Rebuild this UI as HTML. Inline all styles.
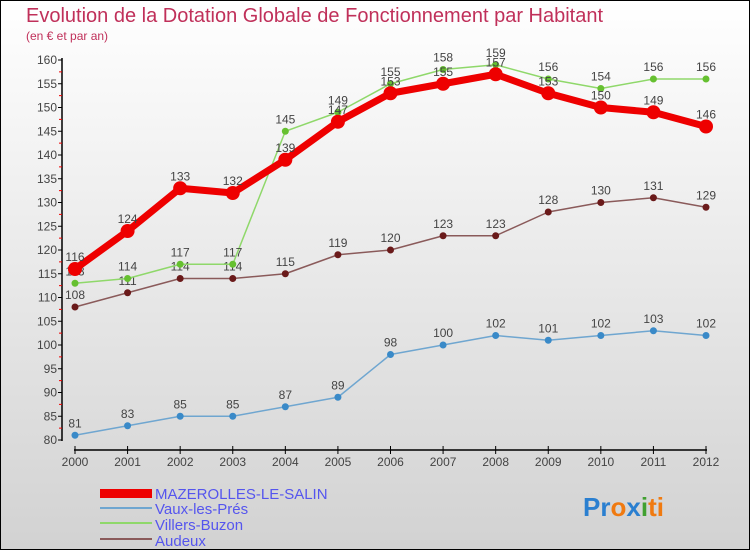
<!DOCTYPE html>
<html><head><meta charset="utf-8"><style>
body{margin:0}
svg{display:block;font-family:"Liberation Sans",sans-serif}
</style></head><body>
<svg id="c" width="750" height="550" xmlns="http://www.w3.org/2000/svg">
<defs><linearGradient id="bg" x1="0" y1="0" x2="0" y2="1"><stop offset="0" stop-color="#ffffff"/><stop offset="1" stop-color="#d2d2d2"/></linearGradient></defs>
<rect x="0.5" y="0.5" width="749" height="549" fill="url(#bg)" stroke="#000"/>
<text x="26" y="22" font-size="20" fill="#c0305a">Evolution de la Dotation Globale de Fonctionnement par Habitant</text>
<text x="26" y="40" font-size="12" fill="#c0305a">(en € et par an)</text>
<g id="axes"></g><g id="series"></g>
<g>
<rect x="100" y="489" width="52" height="9" fill="#ee0000"/>
<text x="155" y="499" font-size="15" fill="#5555ee">MAZEROLLES-LE-SALIN</text>
<rect x="100" y="507" width="52" height="2" fill="#6fa6d0"/>
<text x="155" y="514" font-size="15" fill="#5555ee">Vaux-les-Prés</text>
<rect x="100" y="522" width="52" height="2" fill="#8fd86a"/>
<text x="155" y="530" font-size="15" fill="#5555ee">Villers-Buzon</text>
<rect x="100" y="538" width="52" height="2" fill="#8a5a5a"/>
<text x="155" y="546" font-size="15" fill="#5555ee">Audeux</text>
</g>
<text x="583" y="516" font-size="26" font-weight="bold"><tspan fill="#2a7fd0">Pr</tspan><tspan fill="#f07a10">o</tspan><tspan fill="#2a7fd0">x</tspan><tspan fill="#40a030">i</tspan><tspan fill="#f07a10">ti</tspan></text>
</svg>
<script>
const years=[2000,2001,2002,2003,2004,2005,2006,2007,2008,2009,2010,2011,2012];
const yTicks=[80,85,90,95,100,105,110,115,120,125,130,135,140,145,150,155,160];
const mazerolles=[116,124,133,132,139,147,153,155,157,153,150,149,146];
const vaux=[81,83,85,85,87,89,98,100,102,101,102,103,102];
const villers=[113,114,117,117,145,149,155,158,159,156,154,156,156];
const audeux=[108,111,114,114,115,119,120,123,123,128,130,131,129];
const NS="http://www.w3.org/2000/svg";
const X=i=>75+i*(706-75)/(years.length-1);
const Y=v=>440-(v-80)*(380/80);
function mk(t,a,p){const e=document.createElementNS(NS,t);for(const k in a)e.setAttribute(k,a[k]);p.appendChild(e);return e;}
const ax=document.getElementById('axes');
let e=mk('line',{x1:62,y1:58,x2:62,y2:441,stroke:'#000','stroke-width':1.5},ax);


e=mk('line',{x1:74,y1:450,x2:707,y2:450,stroke:'#000','stroke-width':1.5},ax);


yTicks.forEach((v,i)=>{
 mk('line',{x1:58,y1:Y(v),x2:62,y2:Y(v),stroke:'#000'},ax);
 if(i<yTicks.length-1)mk('line',{x1:59,y1:Y(v+2.5),x2:62,y2:Y(v+2.5),stroke:'#e00'},ax);
 const t=mk('text',{x:57,y:Y(v)+4,'font-size':12,'text-anchor':'end',fill:'#444'},ax);t.textContent=v;
 
 
});
years.forEach((y,i)=>{
 mk('line',{x1:X(i),y1:446,x2:X(i),y2:454,stroke:'#000'},ax);
 const t=mk('text',{x:X(i),y:466,'font-size':12,'text-anchor':'middle',fill:'#444'},ax);t.textContent=y;
 
 
});
const sg=document.getElementById('series');
function series(d,name,col,dot,w,r){
 const g=mk('g',{},sg);
 
 
 const l=mk('polyline',{points:d.map((v,i)=>X(i)+','+Y(v)).join(' '),fill:'none',stroke:col,'stroke-width':w,'stroke-linejoin':'round'},g);
 
 
 d.forEach((v,i)=>{
  const c=mk('circle',{cx:X(i),cy:Y(v),r:r,fill:dot},g);
  
  
  const t=mk('text',{x:X(i),y:Y(v)-8,'font-size':12,'text-anchor':'middle',fill:'#444'},g);t.textContent=v;
  
  
 });
}
series(vaux,'vaux','#6fa6d0','#3a8ac8',1.5,3.5);
series(audeux,'audeux','#8a5a5a','#6a1a1a',1.5,3.5);
series(villers,'villers','#8fd86a','#66c030',1.5,3.5);
series(mazerolles,'mazerolles','#ee0000','#ee0000',7,7);
</script>
</body></html>
